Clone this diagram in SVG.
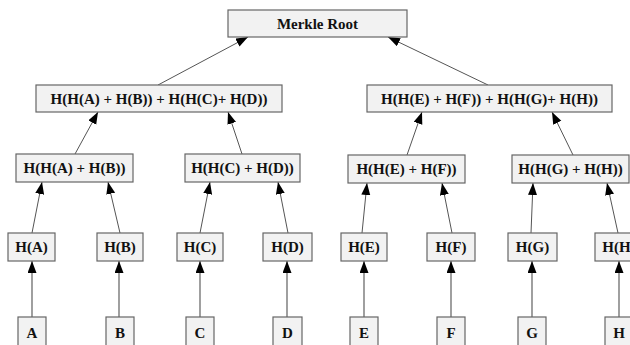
<svg xmlns="http://www.w3.org/2000/svg" width="630" height="345" viewBox="0 0 630 345">
<defs>
<marker id="ah" markerUnits="userSpaceOnUse" markerWidth="13" markerHeight="10" refX="12" refY="4.5" orient="auto">
<path d="M0,0 L12,4.5 L0,9 z" fill="#000"/>
</marker>
<style>
rect{fill:#f2f2f2;stroke:#666;stroke-width:1.2}
text{font-family:"Liberation Serif","Times New Roman",serif;font-weight:bold;font-size:15px;fill:#111;text-anchor:middle}
.e{stroke:#555;stroke-width:1;fill:none;marker-end:url(#ah)}
.l{stroke:#888;stroke-width:1.6;fill:none;marker-end:url(#ah)}
</style>
</defs>
<rect x="0" y="0" width="630" height="345" style="fill:#fff;stroke:none"/>
<g id="connectors">
<line class="e" x1="158" y1="85" x2="248" y2="37"/>
<line class="e" x1="488" y1="85" x2="388" y2="37"/>
<line class="e" x1="75" y1="154" x2="98" y2="112"/>
<line class="e" x1="242" y1="154" x2="228" y2="112"/>
<line class="e" x1="407" y1="155" x2="422" y2="112"/>
<line class="e" x1="573" y1="155" x2="552" y2="112"/>
<line class="e" x1="32" y1="233" x2="42" y2="182"/>
<line class="e" x1="120" y1="233" x2="108" y2="182"/>
<line class="e" x1="200" y1="233" x2="210" y2="182"/>
<line class="e" x1="288" y1="233" x2="278" y2="182"/>
<line class="e" x1="362" y1="233" x2="367" y2="183"/>
<line class="e" x1="452" y1="233" x2="442" y2="183"/>
<line class="e" x1="531" y1="233" x2="533" y2="183"/>
<line class="e" x1="618" y1="233" x2="607" y2="183"/>
<line class="l" x1="32" y1="317" x2="32" y2="261"/>
<line class="l" x1="119" y1="317" x2="119" y2="261"/>
<line class="l" x1="200" y1="317" x2="200" y2="261"/>
<line class="l" x1="287" y1="317" x2="287" y2="261"/>
<line class="l" x1="364" y1="317" x2="364" y2="261"/>
<line class="l" x1="451" y1="317" x2="451" y2="261"/>
<line class="l" x1="532" y1="317" x2="532" y2="261"/>
<line class="l" x1="619" y1="317" x2="619" y2="261"/>
</g>
<g id="root"><rect x="228" y="10" width="179" height="27"/><text x="317.5" y="28.5">Merkle Root</text></g>
<g id="hABCD"><rect x="36" y="85" width="246" height="27"/><text x="159" y="103.5">H(H(A) + H(B)) + H(H(C)+ H(D))</text></g>
<g id="hEFGH"><rect x="367" y="85" width="245" height="27"/><text x="489.5" y="103.5">H(H(E) + H(F)) + H(H(G)+ H(H))</text></g>
<g id="hAB"><rect x="16" y="154" width="117" height="28"/><text x="74.5" y="173">H(H(A) + H(B))</text></g>
<g id="hCD"><rect x="185" y="154" width="115" height="28"/><text x="242.5" y="173">H(H(C) + H(D))</text></g>
<g id="hEF"><rect x="348" y="155" width="117" height="28"/><text x="406.5" y="174">H(H(E) + H(F))</text></g>
<g id="hGH"><rect x="512" y="155" width="117" height="28"/><text x="570.5" y="174">H(H(G) + H(H))</text></g>
<g id="hA"><rect x="8" y="233" width="47" height="28"/><text x="31.5" y="252">H(A)</text></g>
<g id="hB"><rect x="97" y="233" width="46" height="28"/><text x="120" y="252">H(B)</text></g>
<g id="hC"><rect x="177" y="233" width="46" height="28"/><text x="200" y="252">H(C)</text></g>
<g id="hD"><rect x="263" y="233" width="49" height="28"/><text x="287.5" y="252">H(D)</text></g>
<g id="hE"><rect x="341" y="233" width="46" height="28"/><text x="364" y="252">H(E)</text></g>
<g id="hF"><rect x="427" y="233" width="48" height="28"/><text x="451" y="252">H(F)</text></g>
<g id="hG"><rect x="508" y="233" width="49" height="28"/><text x="532.5" y="252">H(G)</text></g>
<g id="hH"><rect x="595" y="233" width="48" height="28"/><text x="619" y="252">H(H)</text></g>
<g id="A"><rect x="18" y="317" width="28" height="36"/><text x="32" y="338">A</text></g>
<g id="B"><rect x="106" y="317" width="28" height="36"/><text x="120" y="338">B</text></g>
<g id="C"><rect x="186" y="317" width="28" height="36"/><text x="200" y="338">C</text></g>
<g id="D"><rect x="273" y="317" width="29" height="36"/><text x="287.5" y="338">D</text></g>
<g id="E"><rect x="350" y="317" width="28" height="36"/><text x="364" y="338">E</text></g>
<g id="F"><rect x="437" y="317" width="28" height="36"/><text x="451" y="338">F</text></g>
<g id="G"><rect x="518" y="317" width="28" height="36"/><text x="532" y="338">G</text></g>
<g id="H"><rect x="605" y="317" width="28" height="36"/><text x="619" y="338">H</text></g>
</svg>
